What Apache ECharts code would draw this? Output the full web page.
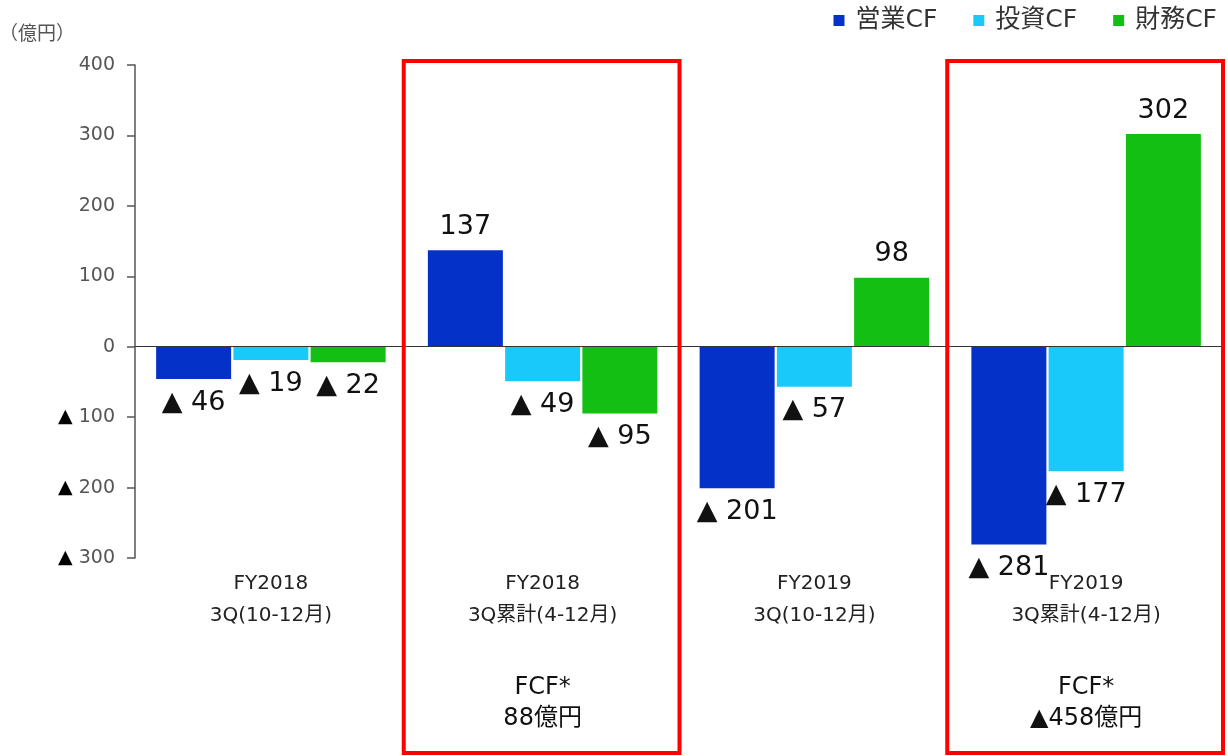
<!DOCTYPE html>
<html>
<head>
<meta charset="utf-8">
<script src="https://cdn.jsdelivr.net/npm/echarts@6/dist/echarts.min.js"></script>
<style>
  html, body { margin: 0; padding: 0; background: #fff; }
  #chart { width: 1228px; height: 756px; }
</style>
</head>
<body>
<div id="chart"></div>
<script>
// data
const categories = ['FY2018\n3Q(10-12月)', 'FY2018\n3Q累計(4-12月)', 'FY2019\n3Q(10-12月)', 'FY2019\n3Q累計(4-12月)'];
const operatingCF = [-46, 137, -201, -281];
const investingCF = [-19, -49, -57, -177];
const financingCF = [-22, -95, 98, 302];
const yTicks = [-300, -200, -100, 0, 100, 200, 300, 400];
const fcfNotes = ['', 'FCF*\n88億円', '', 'FCF*\n▲458億円'];
const highlighted = [1, 3];

const FONT = '"DejaVu Sans", "Noto Sans CJK JP", sans-serif';

const fmtVal = v => (v < 0 ? '▲ ' + Math.abs(v) : String(v));

const barLabel = {
    show: true,
    fontSize: 27,
    fontFamily: FONT,
    color: '#111',
    distance: 10,
    formatter: p => fmtVal(p.value)
};

function mkSeries(name, data, color) {
    return {
        name: name,
        type: 'bar',
        data: data.map(v => ({
            value: v,
            label: { position: v < 0 ? 'bottom' : 'top' }
        })),
        barWidth: 75,
        barGap: '3%',
        itemStyle: { color: color },
        label: barLabel
    };
}

const chart = echarts.init(document.getElementById('chart'));

const series = [
    mkSeries('営業CF', operatingCF, '#0432c8'),
    mkSeries('投資CF', investingCF, '#19c9fa'),
    mkSeries('財務CF', financingCF, '#12bf12')
];
// zero line across the plot
series[0].markLine = {
    silent: true,
    symbol: 'none',
    label: { show: false },
    lineStyle: { color: '#333', width: 1, type: 'solid' },
    data: [{ yAxis: 0 }]
};

chart.setOption({
    animation: false,
    textStyle: { fontFamily: FONT },
    legend: {
        top: 3,
        right: 6,
        icon: 'rect',
        itemWidth: 11,
        itemHeight: 11,
        itemGap: 36,
        textStyle: { fontSize: 25, color: '#333', fontFamily: FONT, padding: [0, 0, 0, 6] },
        data: ['営業CF', '投資CF', '財務CF']
    },
    grid: { left: 135, right: 6, top: 65, bottom: 198, outerBoundsMode: 'none', containLabel: false },
    xAxis: {
        type: 'category',
        data: categories,
        axisLine: { show: false },
        axisTick: { show: false },
        axisLabel: {
            fontSize: 20,
            color: '#222',
            lineHeight: 32,
            margin: 10,
            fontFamily: FONT
        }
    },
    yAxis: {
        type: 'value',
        min: yTicks[0],
        max: yTicks[yTicks.length - 1],
        interval: 100,
        name: '（億円）',
        nameLocation: 'end',
        nameGap: 20,
        nameTextStyle: { fontSize: 19, color: '#555', align: 'right', padding: [0, 60, 0, 0] },
        splitLine: { show: false },
        axisLine: { show: true, lineStyle: { color: '#555', width: 1.5 } },
        axisTick: { show: true, length: 8, lineStyle: { color: '#555', width: 1.5 } },
        axisLabel: {
            fontSize: 19,
            color: '#555',
            margin: 20,
            formatter: v => (v < 0 ? '{t|▲} ' + Math.abs(v) : String(v)),
            rich: { t: { color: '#000', fontSize: 19 } }
        }
    },
    series: series
});

// red boxes and FCF notes placed through the category scale
const band = (chart.convertToPixel({ xAxisIndex: 0 }, 1) - chart.convertToPixel({ xAxisIndex: 0 }, 0));
const graphics = [];
highlighted.forEach(i => {
    const cx = chart.convertToPixel({ xAxisIndex: 0 }, i);
    graphics.push({
        type: 'rect',
        shape: { x: cx - band / 2 - 3, y: 61, width: band + 4, height: 692 },
        style: { fill: 'none', stroke: '#ff0000', lineWidth: 4 },
        z: 100
    });
});
fcfNotes.forEach((t, i) => {
    if (!t) return;
    const cx = chart.convertToPixel({ xAxisIndex: 0 }, i);
    graphics.push({
        type: 'text',
        x: cx,
        y: 672,
        style: {
            text: t,
            fill: '#111',
            font: '24px ' + FONT,
            align: 'center',
            lineHeight: 31
        },
        z: 100
    });
});
chart.setOption({ graphic: graphics });
</script>
</body>
</html>
